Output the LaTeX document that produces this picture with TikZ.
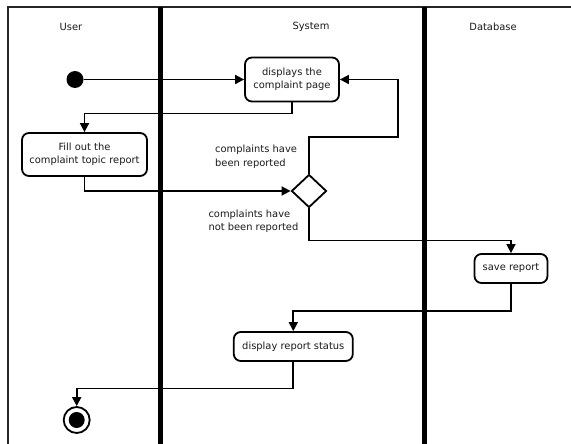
\documentclass[tikz,border=0pt]{standalone}
\usepackage{fontspec}
\setmainfont{DejaVu Sans}
\usetikzlibrary{shapes.geometric,arrows.meta}
\begin{document}
\begin{tikzpicture}[x=1pt,y=-1pt,
  every node/.style={font=\fontsize{9.9}{13.3}\selectfont, text=black!90},
  act/.style={draw, rounded corners=7pt, line width=1.8pt, inner sep=0pt, align=center},
  arr/.style={line width=1.7pt, -{Triangle[length=9pt,width=9pt]}},
  lane/.style={line width=5pt},
  frame/.style={line width=2pt, draw=black!85},
  lbl/.style={align=left, anchor=west, inner sep=0pt}
]
\useasboundingbox (0,0) rectangle (571,444);
% frame and swimlanes
\draw[frame] (571,7.5) -- (7.5,7.5) -- (7.5,444);
\draw[lane] (160.5,7) -- (160.5,444);
\draw[lane] (424,7) -- (424,444);
\node (hUser) at (71,27) {User};
\node (hSys) at (311,27) {System};
\node (hDb) at (493,27) {Database};
% nodes
\node[circle, fill=black, minimum size=17pt, inner sep=0pt] (start) at (75,79.5) {};
\node[act, minimum width=94pt, minimum height=44pt] (disp) at (292,79.5) {displays the\\complaint page};
\node[act, minimum width=125pt, minimum height=43pt] (fill) at (84.5,154.5) {Fill out the\\complaint topic report};
\node[diamond, draw, line width=1.8pt, minimum width=35pt, minimum height=33pt, inner sep=0pt] (dec) at (309,191) {};
\node[act, minimum width=73pt, minimum height=29pt] (save) at (511,268.5) {save report};
\node[act, minimum width=119pt, minimum height=29pt] (stat) at (293.3,346.5) {display report status};
\node[circle, draw, line width=1.8pt, minimum size=26pt, inner sep=0pt] (endo) at (76.7,420) {};
\node[circle, fill=black, minimum size=16pt, inner sep=0pt] (endi) at (endo.center) {};
\node[lbl] (lb1) at (215,156.7) {complaints have\\been reported};
\node[lbl] (lb2) at (208.3,221.4) {complaints have\\not been reported};
\coordinate (loopR) at (398,136.7);
% connectors
\draw[arr] (start) -- (disp.west);
\draw[arr] (disp.south) -- ++(0,11) -| (fill.north);
\draw[arr] (fill.south) |- (dec.west);
\draw[arr] (dec.north) |- (loopR) |- (disp.east);
\draw[arr] (dec.south) -- ++(0,32) -| (save.north);
\draw[arr] (save.south) -- ++(0,27) -| (stat.north);
\draw[arr] (stat.south) -- ++(0,26.5) -| (endo.north);
\end{tikzpicture}
\end{document}
